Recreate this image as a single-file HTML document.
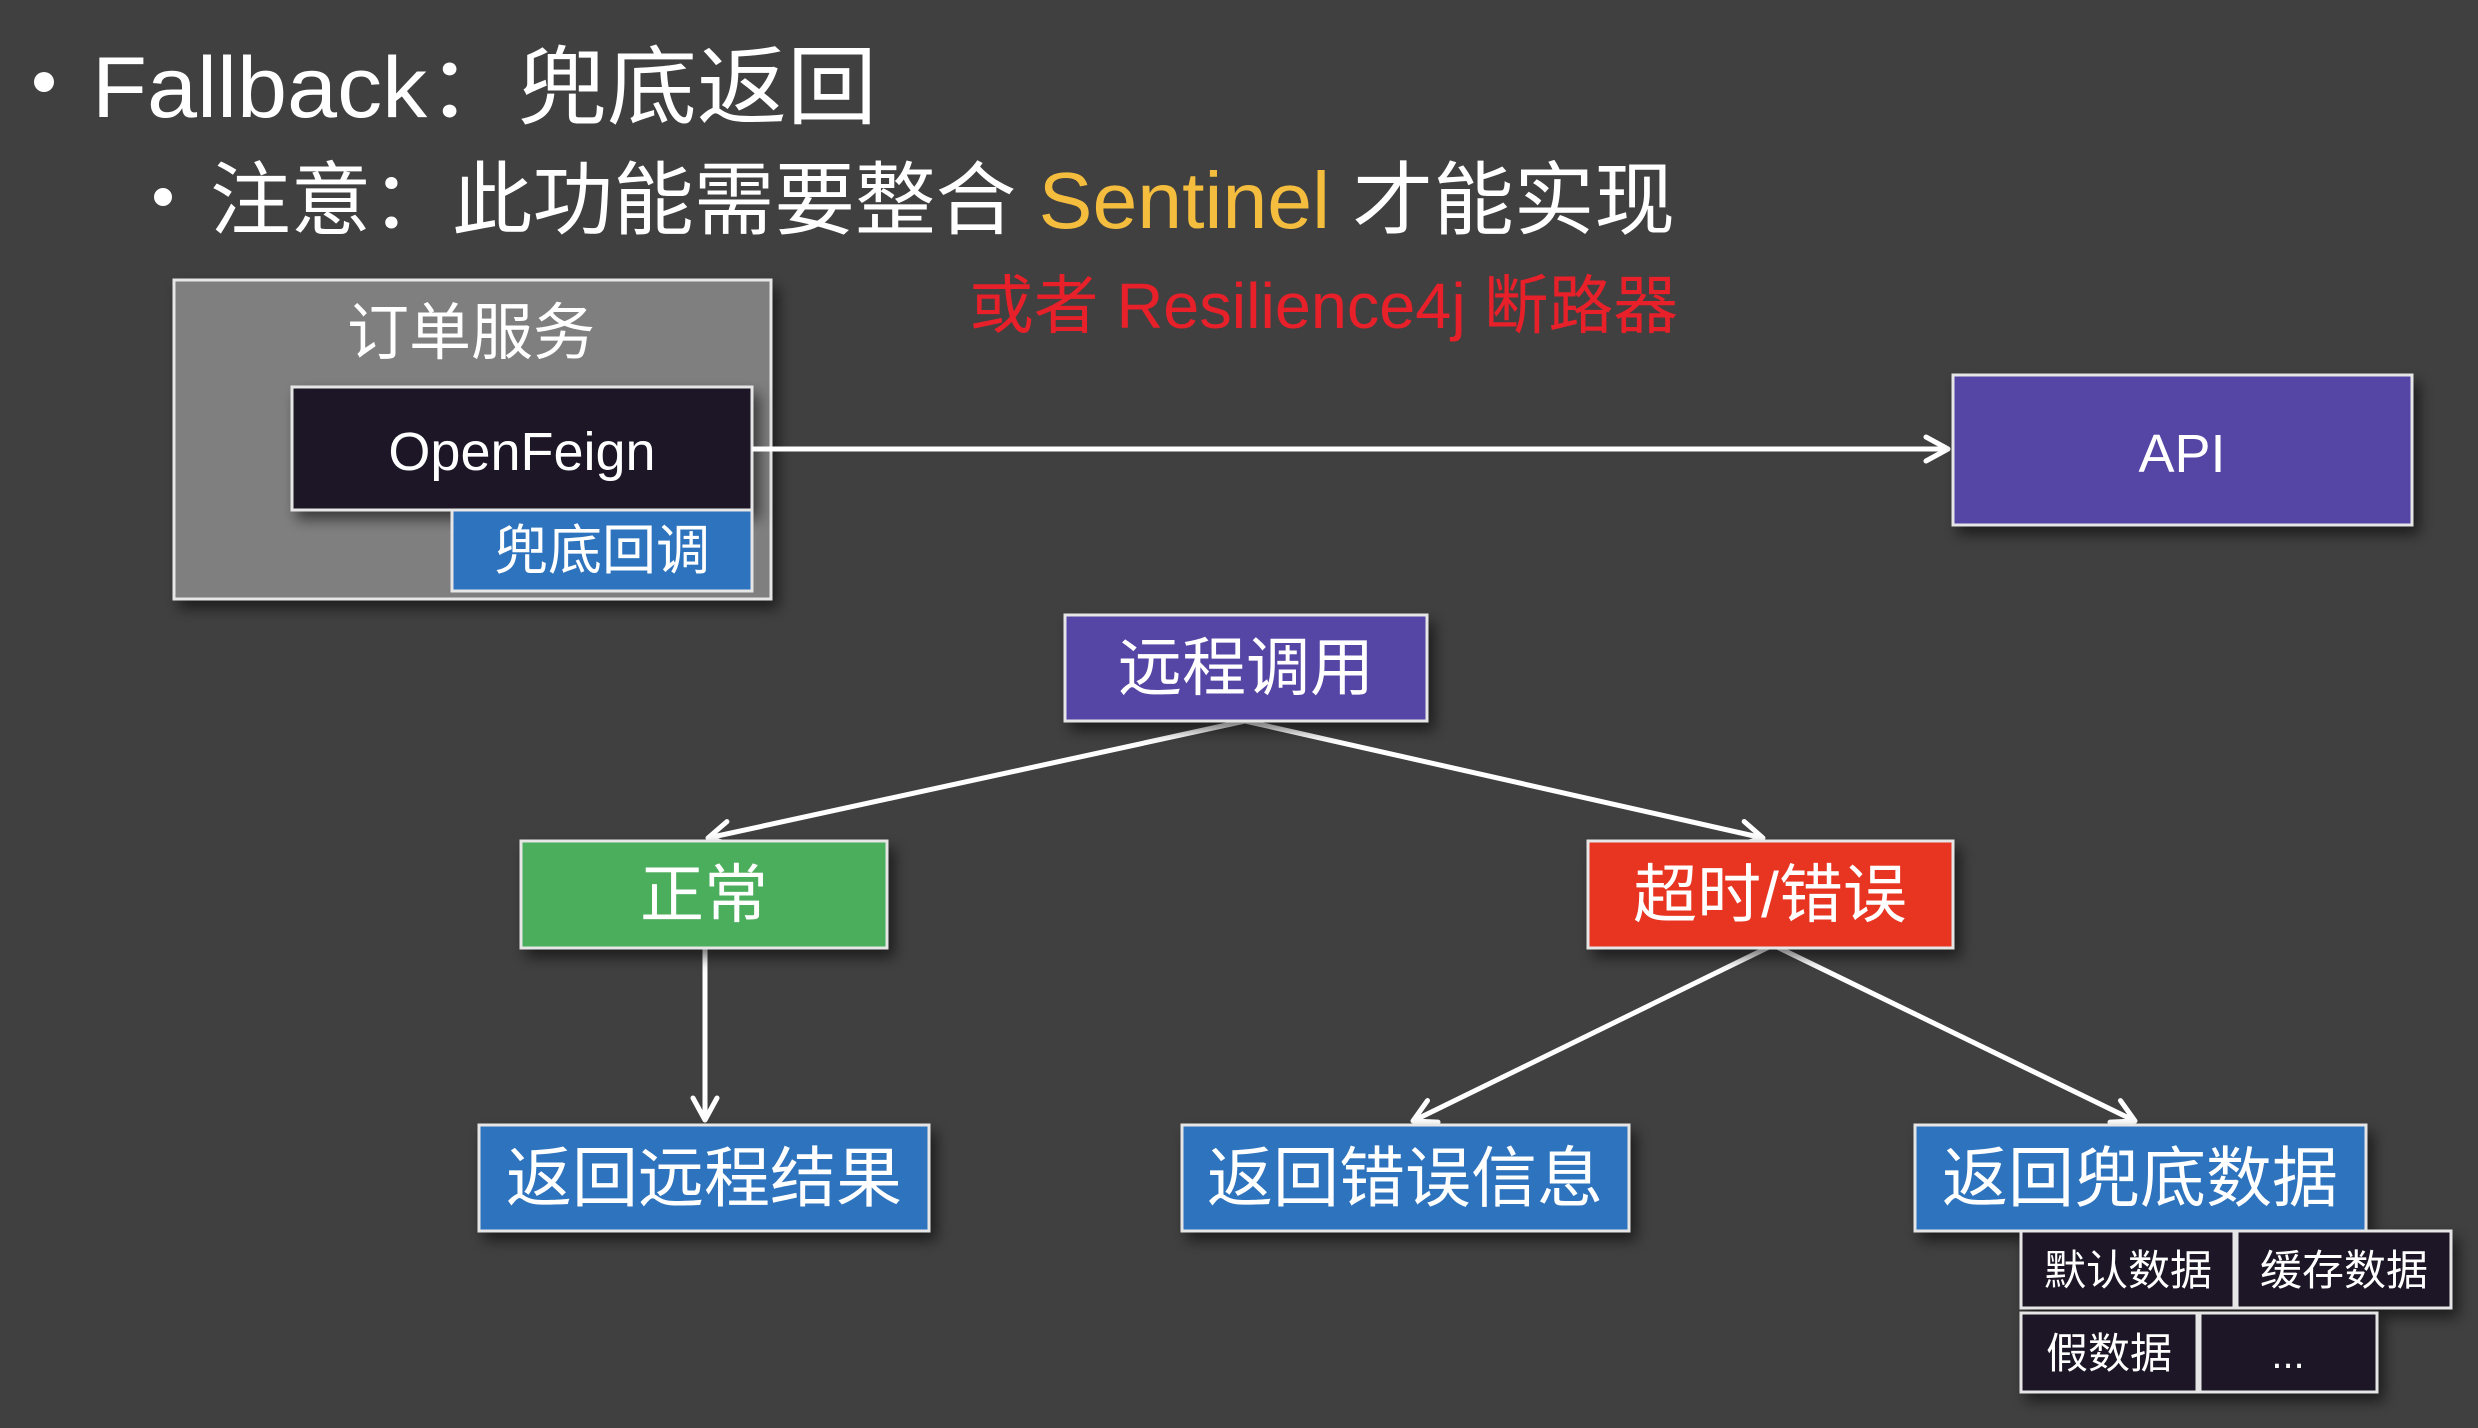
<!DOCTYPE html>
<html><head><meta charset="utf-8"><style>
html,body{margin:0;padding:0;background:#404040;}
svg{display:block}
text{font-family:"Liberation Sans","Noto Sans CJK SC",sans-serif;}
</style></head><body>
<svg width="2478" height="1428" viewBox="0 0 2478 1428" xmlns="http://www.w3.org/2000/svg">
<defs>
<filter id="sh" x="-10%" y="-10%" width="130%" height="140%"><feDropShadow dx="6" dy="8" stdDeviation="7" flood-color="#000" flood-opacity="0.55"/></filter>
<marker id="ah" markerWidth="30" markerHeight="30" refX="26" refY="15" orient="auto" markerUnits="userSpaceOnUse" viewBox="0 0 30 30"><path d="M4,3 L26,15 L4,27" fill="none" stroke="#fff" stroke-width="5" stroke-linecap="round" stroke-linejoin="round"/></marker>
</defs>
<rect width="2478" height="1428" fill="#404040"/>
<g fill="#fff">
<circle cx="44" cy="82" r="10"/>
<text x="92" y="117" font-size="86" textLength="785" lengthAdjust="spacingAndGlyphs">Fallback：兜底返回</text>
<circle cx="163" cy="197" r="9"/>
<text x="210" y="228" font-size="80" textLength="1465" lengthAdjust="spacingAndGlyphs">注意：此功能需要整合 <tspan fill="#F5BD3D">Sentinel</tspan> 才能实现</text>
</g>
<text x="969" y="328" font-size="64" fill="#E8202A" textLength="709" lengthAdjust="spacingAndGlyphs">或者 Resilience4j 断路器</text>

<rect x="174" y="280" width="597" height="319" fill="#7f7f7f" stroke="#e6e6e6" stroke-width="3" filter="url(#sh)"/>
<text x="471" y="354" font-size="62" fill="#fff" text-anchor="middle">订单服务</text>
<rect x="292" y="387" width="460" height="123" fill="#1c1228" stroke="#e6e6e6" stroke-width="3" filter="url(#sh)"/>
<text x="522" y="470" font-size="54" fill="#fff" text-anchor="middle">OpenFeign</text>
<rect x="452" y="510" width="300" height="81" fill="#2e73bd" stroke="#e6e6e6" stroke-width="3"/>
<text x="602" y="569" font-size="54" fill="#fff" text-anchor="middle">兜底回调</text>

<g stroke="#fff" stroke-width="5" fill="none">
<line x1="752" y1="449" x2="1948" y2="449" marker-end="url(#ah)"/>
<line x1="1245" y1="721" x2="708" y2="838" marker-end="url(#ah)"/>
<line x1="1245" y1="721" x2="1763" y2="838" marker-end="url(#ah)"/>
<line x1="705" y1="948" x2="705" y2="1120" marker-end="url(#ah)"/>
<line x1="1773" y1="945" x2="1413" y2="1121" marker-end="url(#ah)"/>
<line x1="1773" y1="945" x2="2135" y2="1121" marker-end="url(#ah)"/>
</g>

<g stroke="#e6e6e6" stroke-width="3" filter="url(#sh)">
<rect x="1953" y="375" width="459" height="150" fill="#5545a5"/>
<rect x="1065" y="615" width="362" height="106" fill="#5545a5"/>
<rect x="521" y="841" width="366" height="107" fill="#4cae5c"/>
<rect x="1588" y="841" width="365" height="107" fill="#e83424"/>
<rect x="479" y="1125" width="450" height="106" fill="#2e73bd"/>
<rect x="1182" y="1125" width="447" height="106" fill="#2e73bd"/>
<rect x="1915" y="1125" width="451" height="106" fill="#2e73bd"/>
<rect x="2021" y="1231" width="213" height="77" fill="#1c1228"/>
<rect x="2237" y="1231" width="214" height="77" fill="#1c1228"/>
<rect x="2021" y="1313" width="176" height="79" fill="#1c1228"/>
<rect x="2200" y="1313" width="177" height="79" fill="#1c1228"/>
</g>
<g fill="#fff" text-anchor="middle">
<text x="2182" y="472" font-size="54">API</text>
<text x="1246" y="690" font-size="64">远程调用</text>
<text x="704" y="917" font-size="64">正常</text>
<text x="1770" y="917" font-size="64">超时/错误</text>
<text x="704" y="1201" font-size="66">返回远程结果</text>
<text x="1405" y="1201" font-size="66">返回错误信息</text>
<text x="2140" y="1201" font-size="66">返回兜底数据</text>
<text x="2128" y="1285" font-size="42">默认数据</text>
<text x="2344" y="1285" font-size="42">缓存数据</text>
<text x="2109" y="1368" font-size="42">假数据</text>
<text x="2288" y="1368" font-size="40">...</text>
</g>
</svg>
</body></html>
